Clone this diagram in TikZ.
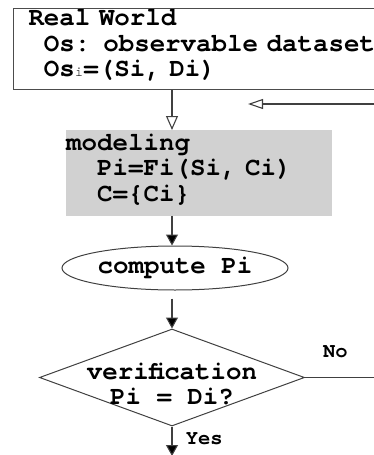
\documentclass[tikz,border=0pt]{standalone}
\usepackage{fontspec}
\setmonofont{TeX Gyre Cursor}
\usetikzlibrary{shapes.geometric,arrows.meta}
\DeclareRobustCommand{\codefont}[1]{\ttfamily\bfseries\fontsize{25.8}{#1}\selectfont}

\begin{document}
\begin{tikzpicture}[auto,x=1pt,y=-1pt,
    every node/.style={font=\codefont{25.7}},
    line/.style={draw=black!75,line width=1.1pt},
    hollowtip/.style={line,-{Triangle[open,length=14pt,width=12pt]}},
    solidtip/.style={line,-{Triangle[length=11pt,width=12pt,fill=black]}},
    answer/.style={font=\ttfamily\bfseries\fontsize{20.5}{20.5}\selectfont}]
  \useasboundingbox (0,0) rectangle (374,455);
  \clip (0,0) rectangle (374,455);
  \node[draw=black!70,line width=1pt,anchor=north west,inner xsep=15pt,inner ysep=0pt,
        text width=370pt,align=left] (world) at (13,7.5)
        {\rule{0pt}{17.5pt}Real World\\
         \hspace*{.6em}Os: observable dataset\\
         \hspace*{.6em}Os{\mdseries\fontsize{14}{14}\selectfont i}=(Si, Di)\rule[-13pt]{0pt}{13pt}};
  \node[fill=black!18,anchor=north west,inner sep=0pt,text width=266pt,align=left] (model) at (66,130)
        {\rule{0pt}{20pt}modeling\\
         \hspace*{1.2em}Pi=Fi(Si, Ci)\\
         \hspace*{1.2em}C=\{Ci\}\rule[-14pt]{0pt}{14pt}};
  \node[ellipse,draw=black!75,line width=1pt,minimum width=226pt,minimum height=44pt,inner sep=0pt] (task) at (175,268) {compute Pi};
  \node[diamond,draw=black!75,line width=1pt,minimum width=265pt,minimum height=97pt,inner sep=0pt] (check) at (172,377.5) {};
  \node[align=center,inner sep=0pt,font=\codefont{25}] (checktext) at (172,384) {verification\\Pi = Di?};
  \coordinate (corner) at (400,377.5);
  \coordinate (return) at (400,104);
  \coordinate (back) at (248,104);
  \coordinate (out) at (172,456);
  % flow
  \draw[hollowtip] (world.south -| check) -- (model.north -| check);
  \draw[solidtip] (model.south -| check) -- (task.north -| check);
  \draw[solidtip,shorten <=8pt] (task.south -| check) -- (check.north);
  \draw[solidtip] (check.south) -- node[answer,right=10pt,pos=.4]{Yes} (out);
  \draw[line,-{Triangle[open,length=15pt,width=10pt]}] (check.east) -- node[answer,above=16pt,pos=.32]{No} (corner) -- (return) -- (back);
\end{tikzpicture}
\end{document}
